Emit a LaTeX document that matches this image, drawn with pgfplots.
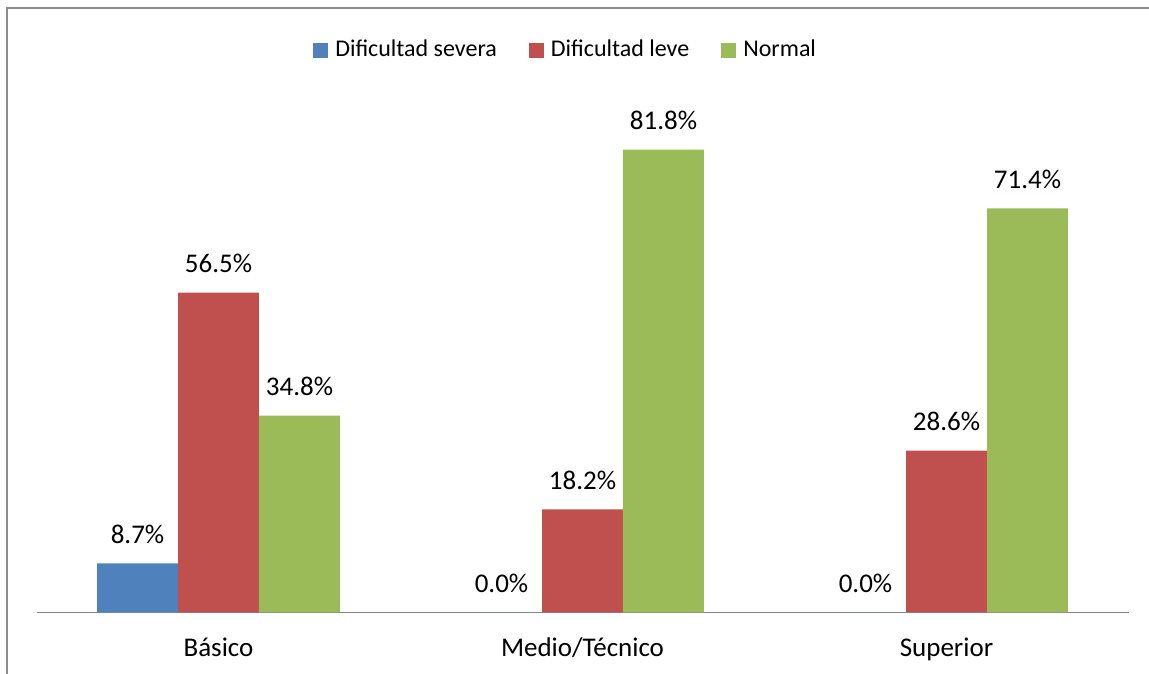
\documentclass[border=0pt]{standalone}
\usepackage{pgfplots}
\pgfplotsset{compat=1.18}
\usepackage{fontspec}
\setmainfont{Carlito}

\definecolor{sev}{HTML}{4F81BD}
\definecolor{lev}{HTML}{C0504D}
\definecolor{nor}{HTML}{9BBB59}
\definecolor{frame}{HTML}{8C8C8C}
\definecolor{axisgray}{HTML}{868686}

\begin{document}
\fontsize{27}{32}\selectfont
\begin{tikzpicture}
\path[use as bounding box] (0,0) rectangle (1149pt,674pt);
% chart frame (only top and left edges are in view)
\draw[frame, line width=2pt] (6.5pt,0) -- (6.5pt,665.5pt) -- (1149pt,665.5pt);

\begin{axis}[
    at={(36.5pt,61.5pt)},
    anchor=south west,
    scale only axis,
    width=1092pt,
    height=509.4pt,
    ybar,
    bar width=0.2225,
    xmin=-0.5, xmax=2.5,
    ymin=0, ymax=90,
    hide y axis,
    axis x line*=bottom,
    x axis line style={draw=axisgray, line width=1.8pt},
    xtick=data,
    xticklabels={Básico, Medio/Técnico, Superior},
    major tick length=0pt,
    xticklabel style={anchor=base, yshift=-44pt, font=\fontsize{27}{32}\selectfont},
    /pgf/number format/assume math mode=true,
    nodes near coords={\pgfmathprintnumber[fixed, fixed zerofill, precision=1]{\pgfplotspointmeta}\%},
    every node near coord/.append style={anchor=base, yshift=20pt, inner sep=0pt, font=\fontsize{27}{32}\selectfont, text=black},
    legend columns=-1,
    legend style={
        at={(0.2505,1.103)}, anchor=west,
        draw=none, fill=none,
        font=\fontsize{24}{29}\selectfont,
        nodes={inner sep=0pt},
        /tikz/every odd column/.append style={column sep=7pt},
        /tikz/every even column/.append style={column sep=32pt},
    },
    legend image code/.code={\fill[#1] (0pt,-7.5pt) rectangle (15pt,7.5pt);},
    clip=false,
]
\addplot[fill=sev, draw=none, bar shift=-0.2225] coordinates {(0,8.7) (1,0.0) (2,0.0)};
\addlegendentry{Dificultad severa}
\addplot[fill=lev, draw=none, bar shift=0] coordinates {(0,56.5) (1,18.2) (2,28.6)};
\addlegendentry{Dificultad leve}
\addplot[fill=nor, draw=none, bar shift=0.2225] coordinates {(0,34.8) (1,81.8) (2,71.4)};
\addlegendentry{Normal}
\end{axis}
\end{tikzpicture}
\end{document}
